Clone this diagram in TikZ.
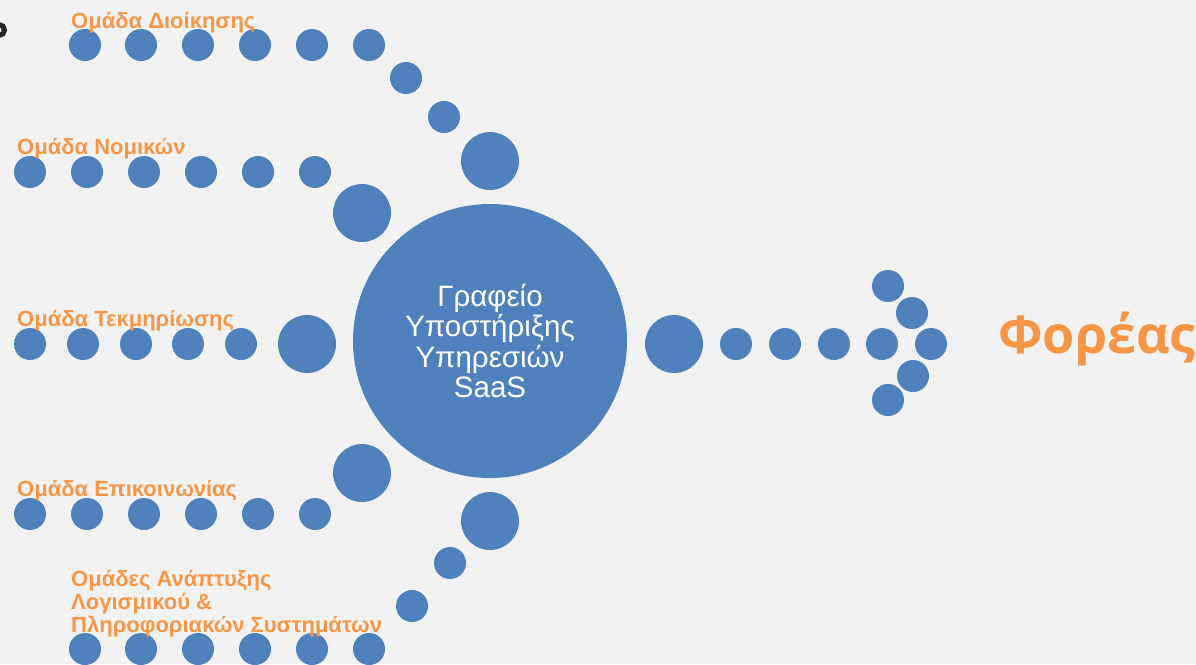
\documentclass[tikz,border=0pt]{standalone}
\usepackage{fontspec}
\setmainfont{Liberation Sans}
\newfontfamily\foreasfont{Open Sans}
\definecolor{dotblue}{HTML}{4F81BD}
\definecolor{teamorange}{HTML}{F79646}
\definecolor{slidegray}{HTML}{F2F2F2}
\tikzset{
  smalldot/.style={circle, fill=dotblue, inner sep=0pt, minimum size=32pt},
  bigdot/.style={circle, fill=dotblue, inner sep=0pt, minimum size=58pt},
  hub/.style={circle, fill=dotblue, inner sep=0pt, minimum size=274pt},
  teamlabel/.style={anchor=base west, inner sep=0pt, align=left, text=teamorange,
    font=\fontsize{22}{23}\selectfont\bfseries}
}
\newcommand{\dotS}[3]{ \node[smalldot] (#1) at (#2,#3) {};}
\newcommand{\dotB}[3]{ \node[bigdot] (#1) at (#2,#3) {};}

\begin{document}
\begin{tikzpicture}[x=1pt, y=-1pt]
\fill[slidegray] (0,0) rectangle (1196,664);
\useasboundingbox (0,0) rectangle (1196,664);
\begin{scope}
\clip (0,0) rectangle (1196,664);
\draw[black!85, line width=5pt] (-1,30) circle (5.5);
\end{scope}
% hub
\node[hub, text=white, align=center, font=\fontsize{29.5}{30.5}\selectfont] (office) at (490,341)
  {Γραφείο\\Υποστήριξης\\Υπηρεσιών\\SaaS};
% row1
\dotS{d1}{85}{45}
\dotS{d2}{141}{45}
\dotS{d3}{198}{45}
\dotS{d4}{255}{45}
\dotS{d5}{312}{45}
\dotS{d6}{369}{45}
\dotS{d7}{406}{78}
\dotS{d8}{444}{117}
\dotB{d9}{490}{161}
\node[teamlabel] (admin) at (71,28) {Ομάδα Διοίκησης};
% row2
\dotS{n1}{30}{172}
\dotS{n2}{87}{172}
\dotS{n3}{144}{172}
\dotS{n4}{201}{172}
\dotS{n5}{258}{172}
\dotS{n6}{315}{172}
\dotB{n7}{362}{213}
\node[teamlabel] (legal) at (17,154) {Ομάδα Νομικών};
% row3
\dotS{t1}{30}{344}
\dotS{t2}{83}{344}
\dotS{t3}{136}{344}
\dotS{t4}{188}{344}
\dotS{t5}{241}{344}
\dotB{t6}{307}{344}
\node[teamlabel] (docs) at (17,326) {Ομάδα Τεκμηρίωσης};
% row4
\dotS{e1}{30}{514}
\dotS{e2}{87}{514}
\dotS{e3}{144}{514}
\dotS{e4}{201}{514}
\dotS{e5}{258}{514}
\dotS{e6}{315}{514}
\dotB{e7}{362}{473}
\node[teamlabel] (comms) at (17,496) {Ομάδα Επικοινωνίας};
% row5
\dotS{a1}{85}{649}
\dotS{a2}{141}{649}
\dotS{a3}{198}{649}
\dotS{a4}{255}{649}
\dotS{a5}{312}{649}
\dotS{a6}{369}{649}
\dotS{a7}{412}{606}
\dotS{a8}{450}{563}
\dotB{a9}{490}{521}
\node[teamlabel] (devs) at (71,632) {Ομάδες Ανάπτυξης\\Λογισμικού \&\\Πληροφοριακών Συστημάτων};
% arrow
\dotB{f0}{674}{344}
\dotS{f1}{736}{344}
\dotS{f2}{785}{344}
\dotS{f3}{834}{344}
\dotS{f4}{882}{344}
\dotS{f5}{931}{344}
\dotS{f6}{888}{286}
\dotS{f7}{912}{313}
\dotS{f8}{913}{376}
\dotS{f9}{888}{400}
\node[anchor=base west, inner sep=0pt, text=teamorange, font=\foreasfont\bfseries\fontsize{52}{56}\selectfont] (body) at (998,353) {Φορέας};
\end{tikzpicture}
\end{document}
